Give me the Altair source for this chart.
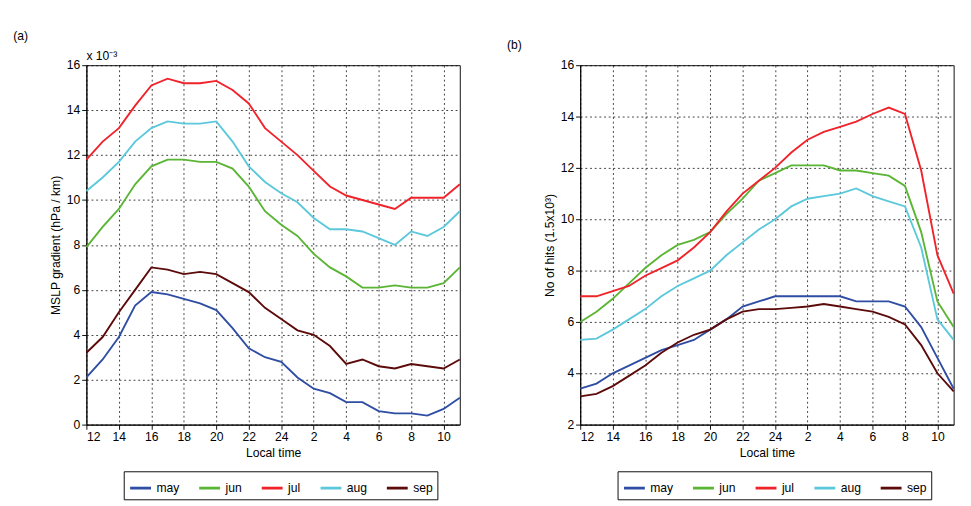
import altair as alt
import pandas as pd

hours = list(range(24))  # 0 = 12 local time, 23 = 11 next day
months = ["may", "jun", "jul", "aug", "sep"]
colors = ["#2e4da3", "#5ab535", "#f0222a", "#5bc8db", "#5c0a0a"]

# (a) MSLP gradient, x 1e-3 hPa/km
grad_may = [2.1, 2.9, 3.9, 5.3, 5.9, 5.8, 5.6, 5.4, 5.1, 4.3, 3.4, 3.0, 2.8, 2.1, 1.6, 1.4, 1.0, 1.0, 0.6, 0.5, 0.5, 0.4, 0.7, 1.2]
grad_jun = [7.9, 8.8, 9.6, 10.7, 11.5, 11.8, 11.8, 11.7, 11.7, 11.4, 10.6, 9.5, 8.9, 8.4, 7.6, 7.0, 6.6, 6.1, 6.1, 6.2, 6.1, 6.1, 6.3, 7.0]
grad_jul = [11.8, 12.6, 13.2, 14.2, 15.1, 15.4, 15.2, 15.2, 15.3, 14.9, 14.3, 13.2, 12.6, 12.0, 11.3, 10.6, 10.2, 10.0, 9.8, 9.6, 10.1, 10.1, 10.1, 10.7]
grad_aug = [10.4, 11.0, 11.7, 12.6, 13.2, 13.5, 13.4, 13.4, 13.5, 12.6, 11.5, 10.8, 10.3, 9.9, 9.2, 8.7, 8.7, 8.6, 8.3, 8.0, 8.6, 8.4, 8.8, 9.5]
grad_sep = [3.2, 3.9, 5.0, 6.0, 7.0, 6.9, 6.7, 6.8, 6.7, 6.3, 5.9, 5.2, 4.7, 4.2, 4.0, 3.5, 2.7, 2.9, 2.6, 2.5, 2.7, 2.6, 2.5, 2.9]

# (b) number of hits, units of 1.5x10^3
hits_may = [3.4, 3.6, 4.0, 4.3, 4.6, 4.9, 5.1, 5.3, 5.7, 6.1, 6.6, 6.8, 7.0, 7.0, 7.0, 7.0, 7.0, 6.8, 6.8, 6.8, 6.6, 5.8, 4.6, 3.4]
hits_jun = [6.0, 6.4, 6.9, 7.5, 8.1, 8.6, 9.0, 9.2, 9.5, 10.2, 10.8, 11.5, 11.8, 12.1, 12.1, 12.1, 11.9, 11.9, 11.8, 11.7, 11.3, 9.5, 6.8, 5.8]
hits_jul = [7.0, 7.0, 7.2, 7.4, 7.8, 8.1, 8.4, 8.9, 9.5, 10.3, 11.0, 11.5, 12.0, 12.6, 13.1, 13.4, 13.6, 13.8, 14.1, 14.35, 14.1, 11.9, 8.6, 7.1]
hits_aug = [5.3, 5.35, 5.7, 6.1, 6.5, 7.0, 7.4, 7.7, 8.0, 8.6, 9.1, 9.6, 10.0, 10.5, 10.8, 10.9, 11.0, 11.2, 10.9, 10.7, 10.5, 8.9, 6.1, 5.3]
hits_sep = [3.1, 3.2, 3.5, 3.9, 4.3, 4.8, 5.2, 5.5, 5.7, 6.1, 6.4, 6.5, 6.5, 6.55, 6.6, 6.7, 6.6, 6.5, 6.4, 6.2, 5.9, 5.1, 4.0, 3.3]

W, H = 400, 385


def to_long(series):
    rows = []
    for m, vals in zip(months, series):
        for h, v in zip(hours, vals):
            rows.append({"hour": h, "month": m, "value": v})
    return pd.DataFrame(rows)


grad = to_long([grad_may, grad_jun, grad_jul, grad_aug, grad_sep])
hits = to_long([hits_may, hits_jun, hits_jul, hits_aug, hits_sep])

label_expr = "datum.value == 12 ? '24' : '' + ((datum.value + 12) % 24)"


def panel(df, title, ytitle, ydomain):
    x = alt.X(
        "hour:Q",
        title="Local time",
        scale=alt.Scale(domain=[0, 23], nice=False),
        axis=alt.Axis(values=list(range(0, 23, 2)), labelExpr=label_expr),
    )
    y = alt.Y(
        "value:Q",
        title=ytitle,
        scale=alt.Scale(domain=ydomain, nice=False),
        axis=alt.Axis(values=list(range(ydomain[0], ydomain[1] + 1, 2))),
    )
    lines = (
        alt.Chart(df)
        .mark_line(strokeWidth=2)
        .encode(
            x=x,
            y=y,
            color=alt.Color(
                "month:N",
                sort=months,
                scale=alt.Scale(domain=months, range=colors),
                legend=alt.Legend(
                    title=None,
                    orient="none",
                    legendX=40,
                    legendY=H + 50,
                    direction="horizontal",
                    symbolType="stroke",
                    symbolStrokeWidth=3,
                    symbolSize=500,
                    strokeColor="black",
                    padding=5,
                    labelFontSize=13,
                    columnPadding=14,
                ),
            ),
        )
    )
    return lines.properties(
        width=W,
        height=H,
        title=alt.Title(title, anchor="start", offset=8, dx=-40, fontSize=13, fontWeight="normal"),
    )


a = panel(grad, "(a)", "MSLP gradient (hPa / km)", [0, 16])
a = alt.layer(
    a,
    alt.Chart(pd.DataFrame({"t": ["x 10⁻³"]}))
    .mark_text(align="left", fontSize=13)
    .encode(text="t:N", x=alt.value(0), y=alt.value(-10)),
)
b = panel(hits, "(b)", "No of hits  (1.5x10³)", [2, 16])

chart = (
    alt.hconcat(a, b, spacing=45)
    .resolve_scale(color="independent")
    .configure(font="Liberation Sans")
    .configure_view(stroke="black", strokeWidth=1)
    .configure_axis(
        grid=True,
        gridColor="black",
        gridDash=[2, 3],
        gridOpacity=0.8,
        domainColor="black",
        tickColor="black",
        labelFontSize=13,
        titleFontSize=13,
        titleFontWeight="normal",
        labelColor="black",
        titleColor="black",
    )
)

chart.save("out.html", embed_options={"renderer": "svg", "actions": False})
